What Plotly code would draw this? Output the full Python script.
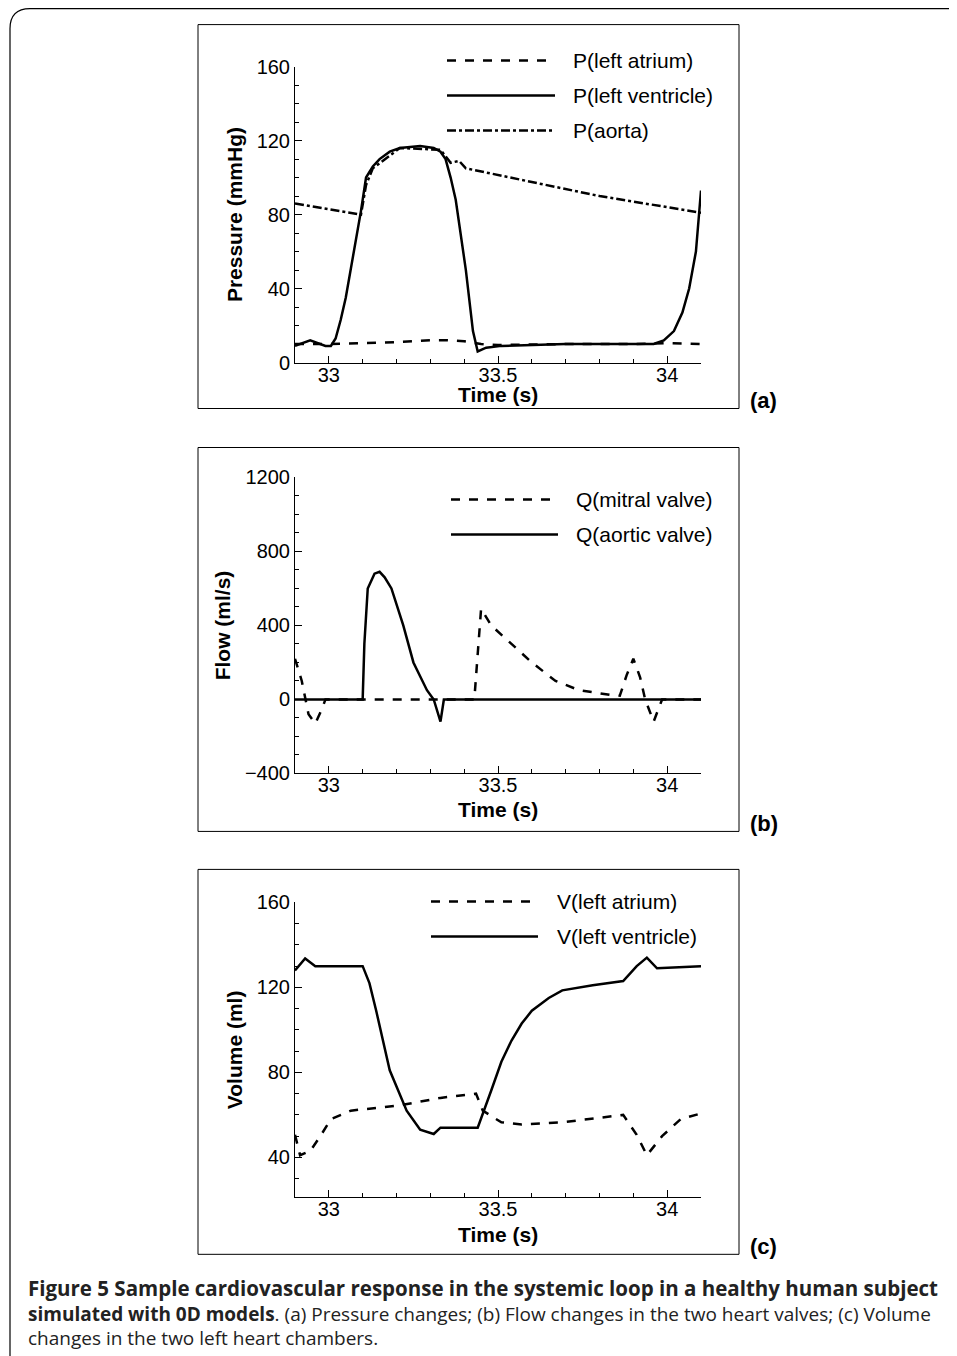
import plotly.graph_objects as go

# ---- Data ----
t_la_p = [32.9, 33.0, 33.1, 33.2, 33.3, 33.35, 33.4, 33.45, 33.5, 33.7, 33.9, 34.0, 34.1]
p_la = [10, 10, 10.5, 11, 12, 12, 11.5, 10, 9.5, 10, 10, 10.5, 10]
t_lv_p = [32.9, 32.945, 32.99, 33.006, 33.02, 33.035, 33.05, 33.065, 33.08, 33.095, 33.11, 33.13, 33.15,
          33.18, 33.21, 33.27, 33.31, 33.33, 33.345, 33.36, 33.375, 33.39, 33.405, 33.426, 33.44, 33.465,
          33.51, 33.7, 33.96, 33.99, 34.02, 34.045, 34.065, 34.085, 34.1]
p_lv = [9, 12, 9, 9, 13, 23, 35, 50, 66, 82, 100, 106, 110, 114, 116, 117, 116, 114, 110, 100, 88, 70, 50,
        17, 6, 8, 9, 10, 10, 12, 17, 27, 40, 60, 93]
t_ao = [32.9, 33.0, 33.095, 33.11, 33.13, 33.21, 33.33, 33.36, 33.385, 33.405, 33.51, 33.8, 34.1]
p_ao = [86, 83, 80, 96, 105, 116, 115, 108, 109, 105, 101, 90, 81]

t_av = [32.9, 33.1, 33.105, 33.115, 33.135, 33.15, 33.165, 33.185, 33.22, 33.25, 33.29, 33.31, 33.33, 33.34, 34.1]
q_av = [0, 0, 300, 600, 680, 690, 660, 600, 400, 200, 50, 0, -120, 0, 0]
t_mv = [32.9, 32.92, 32.94, 32.96, 32.98, 32.99, 33.43, 33.45, 33.48, 33.54, 33.6, 33.67, 33.74,
        33.83, 33.86, 33.88, 33.9, 33.92, 33.935, 33.96, 33.985, 34.1]
q_mv = [220, 100, -80, -130, -50, 0, 0, 490, 400, 300, 200, 100, 50, 25, 20, 130, 220, 120, 0, -120, 0, 0]

t_lv_v = [32.9, 32.93, 32.96, 32.98, 33.1, 33.12, 33.14, 33.18, 33.23, 33.27, 33.31, 33.33, 33.44,
          33.48, 33.51, 33.54, 33.57, 33.6, 33.65, 33.69, 33.78, 33.87, 33.91, 33.94, 33.97, 34.1]
v_lv = [128, 133.6, 130, 130, 130, 122, 109, 81, 62, 53, 51, 54, 54, 71.5, 85, 95, 103, 109, 115,
        118.6, 121, 123, 130, 134, 129, 130]
t_la_v = [32.9, 32.915, 32.945, 32.975, 33.006, 33.065, 33.21, 33.33, 33.435, 33.455, 33.51, 33.57,
          33.69, 33.87, 33.91, 33.94, 33.985, 34.04, 34.1]
v_la = [50.6, 41, 43, 50, 58, 62, 64.5, 68, 70, 62, 56.5, 55.5, 56.5, 60, 50.6, 41, 50, 58, 60.7]

W, H = 957, 1356
fig = go.Figure()
FONT = "Liberation Sans"

def py(p):
    q = (p - 18.4) / 0.984
    return 1 - q / H

def px(x):
    return (x - 8) / W

panels = [
    dict(ax="", y0=362, y1=66, rng=[0, 160], dt=40, mdt=10, title="Pressure (mmHg)", ly=60,
         box=(24, 408), lab="(a)", laby=400, lx=(447, 555, 571), ty=394),
    dict(ax="2", y0=773, y1=477, rng=[-400, 1200], dt=400, mdt=100, title="Flow (ml/s)", ly=499,
         box=(447, 831), lab="(b)", laby=823, lx=(451, 558, 574), ty=809),
    dict(ax="3", y0=1197, y1=902, rng=[21.2, 160], dt=40, mdt=10, title="Volume (ml)", ly=901,
         box=(869, 1254), lab="(c)", laby=1246, lx=(431, 538, 555), ty=1234),
]

series = [
    [("P(left atrium)", t_la_p, p_la, "dash"), ("P(left ventricle)", t_lv_p, p_lv, "solid"),
     ("P(aorta)", t_ao, p_ao, "dashdot")],
    [("Q(mitral valve)", t_mv, q_mv, "dash"), ("Q(aortic valve)", t_av, q_av, "solid")],
    [("V(left atrium)", t_la_v, v_la, "dash"), ("V(left ventricle)", t_lv_v, v_lv, "solid")],
]

for p, ser in zip(panels, series):
    for i, (name, x, y, d) in enumerate(ser):
        fig.add_trace(go.Scatter(x=x, y=y, mode="lines", name=name, showlegend=False,
                                 line=dict(color="black", width=2.5, dash=d),
                                 xaxis="x" + p["ax"], yaxis="y" + p["ax"]))
        yy = py(p["ly"] + 35 * i)
        fig.add_shape(type="line", xref="paper", yref="paper", x0=px(p["lx"][0]), x1=px(p["lx"][1]),
                      y0=yy, y1=yy, line=dict(color="black", width=2.5, dash=d))
        fig.add_annotation(text=name, xref="paper", yref="paper", x=px(p["lx"][2]), y=yy,
                           xanchor="left", yanchor="middle", showarrow=False,
                           font=dict(family=FONT, size=21, color="black"))
    common = dict(showline=True, linecolor="black", linewidth=1, ticks="inside", ticklen=7,
                  tickcolor="black", showgrid=False, zeroline=False,
                  tickfont=dict(family=FONT, size=20, color="black"))
    fig.layout["xaxis" + p["ax"]] = dict(domain=[px(295), px(701)], range=[32.9, 34.1],
                                         anchor="y" + p["ax"], tickvals=[33, 33.5, 34],
                                         ticktext=["33", "33.5", "34"], ticklabelstandoff=-6,
                                         minor=dict(dtick=0.1, ticks="inside", ticklen=4, tickcolor="black"),
                                         **common)
    fig.add_annotation(text="<b>Time (s)</b>", xref="paper", yref="paper", x=px(498), y=py(p["ty"]),
                       xanchor="center", yanchor="middle", showarrow=False,
                       font=dict(family=FONT, size=21, color="black"))
    fig.layout["yaxis" + p["ax"]] = dict(domain=[py(p["y0"]), py(p["y1"])], range=p["rng"],
                                         anchor="x" + p["ax"], dtick=p["dt"],
                                         minor=dict(dtick=p["mdt"], ticks="inside", ticklen=4, tickcolor="black"),
                                         title=dict(text="<b>" + p["title"] + "</b>", standoff=8,
                                                    font=dict(family=FONT, size=21, color="black")),
                                         **common)
    fig.add_shape(type="rect", xref="paper", yref="paper", x0=px(198), x1=px(739),
                  y0=py(p["box"][1]), y1=py(p["box"][0]), line=dict(color="black", width=1))
    fig.add_annotation(text="<b>" + p["lab"] + "</b>", xref="paper", yref="paper", x=px(748),
                       y=py(p["laby"]), xanchor="left", yanchor="middle", showarrow=False,
                       font=dict(family=FONT, size=22, color="black"))

# outer border
fig.add_shape(type="path", xref="paper", yref="paper",
              path=f"M {px(957)},{py(8)} L {px(30)},{py(8)} Q {px(10)},{py(8)} {px(10)},{py(28)} L {px(10)},{py(1356)}",
              line=dict(color="black", width=1.2))

fig.add_annotation(
    text="<span style='font-size:20.5px'><b>Figure 5 Sample cardiovascular response in the systemic loop in a healthy human subject</b></span><br>"
         "<b>simulated with 0D models</b>. (a) Pressure changes; (b) Flow changes in the two heart valves; (c) Volume<br>"
         "changes in the two left heart chambers.",
    xref="paper", yref="paper", x=px(26), y=py(1272), xanchor="left", yanchor="top", align="left",
    showarrow=False, font=dict(family="Open Sans", size=19, color="#222"))

fig.update_layout(width=W, height=H, margin=dict(l=0, r=0, t=0, b=0),
                  paper_bgcolor="white", plot_bgcolor="white", showlegend=False)
fig.write_html("out.html")
